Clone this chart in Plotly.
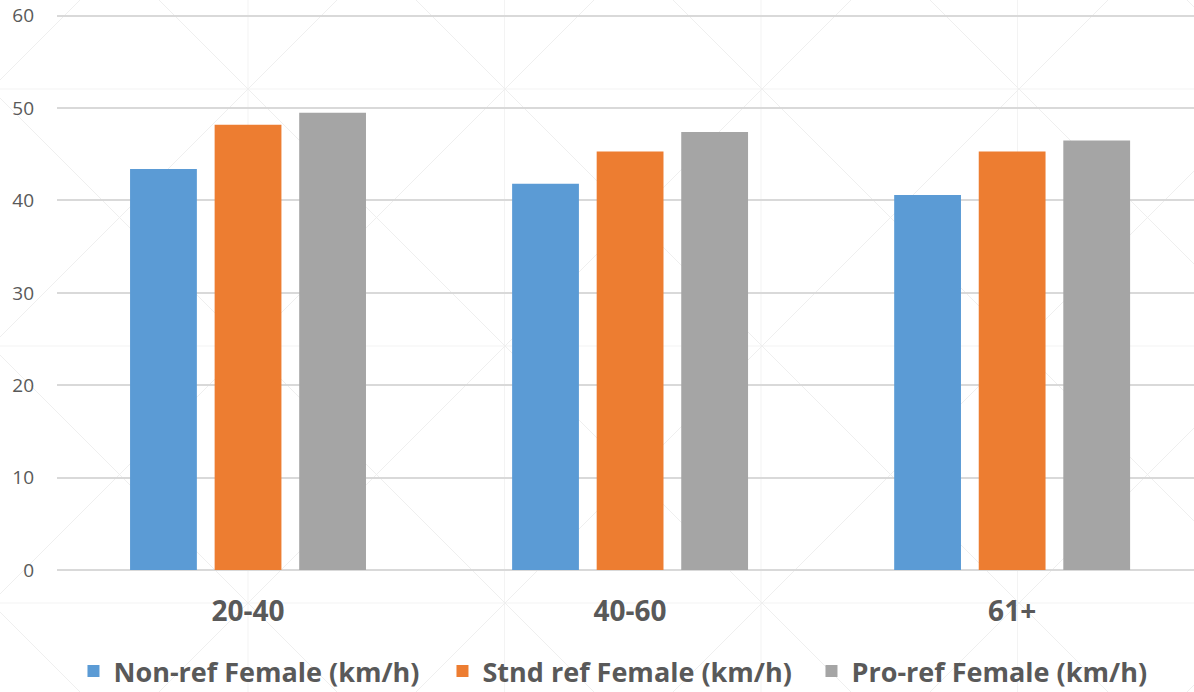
import plotly.graph_objects as go

categories = ["20-40", "40-60", "61+"]
non_ref = [43.4, 41.8, 40.6]
stnd_ref = [48.2, 45.3, 45.3]
pro_ref = [49.5, 47.4, 46.5]
series_names = ["Non-ref Female (km/h)", "Stnd ref Female (km/h)", "Pro-ref Female (km/h)"]
colors = ["#5B9BD5", "#ED7D31", "#A5A5A5"]
y_ticks = [0, 10, 20, 30, 40, 50, 60]

W, H = 1194, 692
ML, MR, MT, MB = 57, 0, 12, 122
PW, PH = W - ML - MR, H - MT - MB

def px(x):
    return (x - ML) / PW

def py(y):
    return (H - MB - y) / PH

# faint background watermark lattice (decoration)
shapes = []
wm_col = "#EFEFEF"
for vx in [248, 504.5, 761, 1017.5]:
    shapes.append(dict(type="line", xref="paper", yref="paper", x0=px(vx), x1=px(vx),
                       y0=py(0), y1=py(H), line=dict(color="#F3F3F3", width=1), layer="below"))
for hy in [89, 346, 603]:
    shapes.append(dict(type="line", xref="paper", yref="paper", x0=px(0), x1=px(W),
                       y0=py(hy), y1=py(hy), line=dict(color="#F3F3F3", width=1), layer="below"))
for k in range(-4, 6):
    c = 159 + k * 257
    xa, xb = max(0, c), min(W, H + c)
    if xa < xb:
        shapes.append(dict(type="line", xref="paper", yref="paper", x0=px(xa), x1=px(xb),
                           y0=py(xa - c), y1=py(xb - c), line=dict(color=wm_col, width=1), layer="below"))
for k in range(-2, 8):
    c = 337 + k * 257
    xa, xb = max(0, c - H), min(W, c)
    if xa < xb:
        shapes.append(dict(type="line", xref="paper", yref="paper", x0=px(xa), x1=px(xb),
                           y0=py(c - xa), y1=py(c - xb), line=dict(color=wm_col, width=1), layer="below"))

fig = go.Figure()
for name, vals, col in zip(series_names, [non_ref, stnd_ref, pro_ref], colors):
    fig.add_trace(go.Bar(x=categories, y=vals, name=name, marker_color=col,
                         marker_line_width=0))

fig.update_layout(
    width=W, height=H,
    margin=dict(l=ML, r=MR, t=MT, b=MB, autoexpand=False),
    paper_bgcolor="white", plot_bgcolor="rgba(0,0,0,0)",
    barmode="group", bargap=0.336, bargroupgap=0.21,
    font=dict(family="Open Sans", color="#595959"),
    legend=dict(orientation="h", x=0.5013, xanchor="center", y=py(647), yanchor="top",
                font=dict(size=27, family="Open Sans", weight="bold", color="#595959"),
                entrywidth=324, entrywidthmode="pixels", traceorder="normal",
                bgcolor="rgba(0,0,0,0)"),
    showlegend=True,
    shapes=shapes,
)
fig.update_xaxes(range=[-0.5, 2.476], showgrid=False, showline=False, ticks="",
                 tickfont=dict(size=28, weight="bold", color="#595959"),
                 ticklabelstandoff=22, automargin=False)
fig.update_yaxes(range=[0, 60.4], tickvals=y_ticks, showgrid=True, gridcolor="#D9D9D9",
                 gridwidth=1.5, zeroline=True, zerolinecolor="#D9D9D9", zerolinewidth=1.5,
                 tickfont=dict(size=19, color="#595959"), ticklabelstandoff=22,
                 automargin=False)

fig.write_html("out.html", post_script="document.body.style.margin='0';",
               config={"displayModeBar": False})
